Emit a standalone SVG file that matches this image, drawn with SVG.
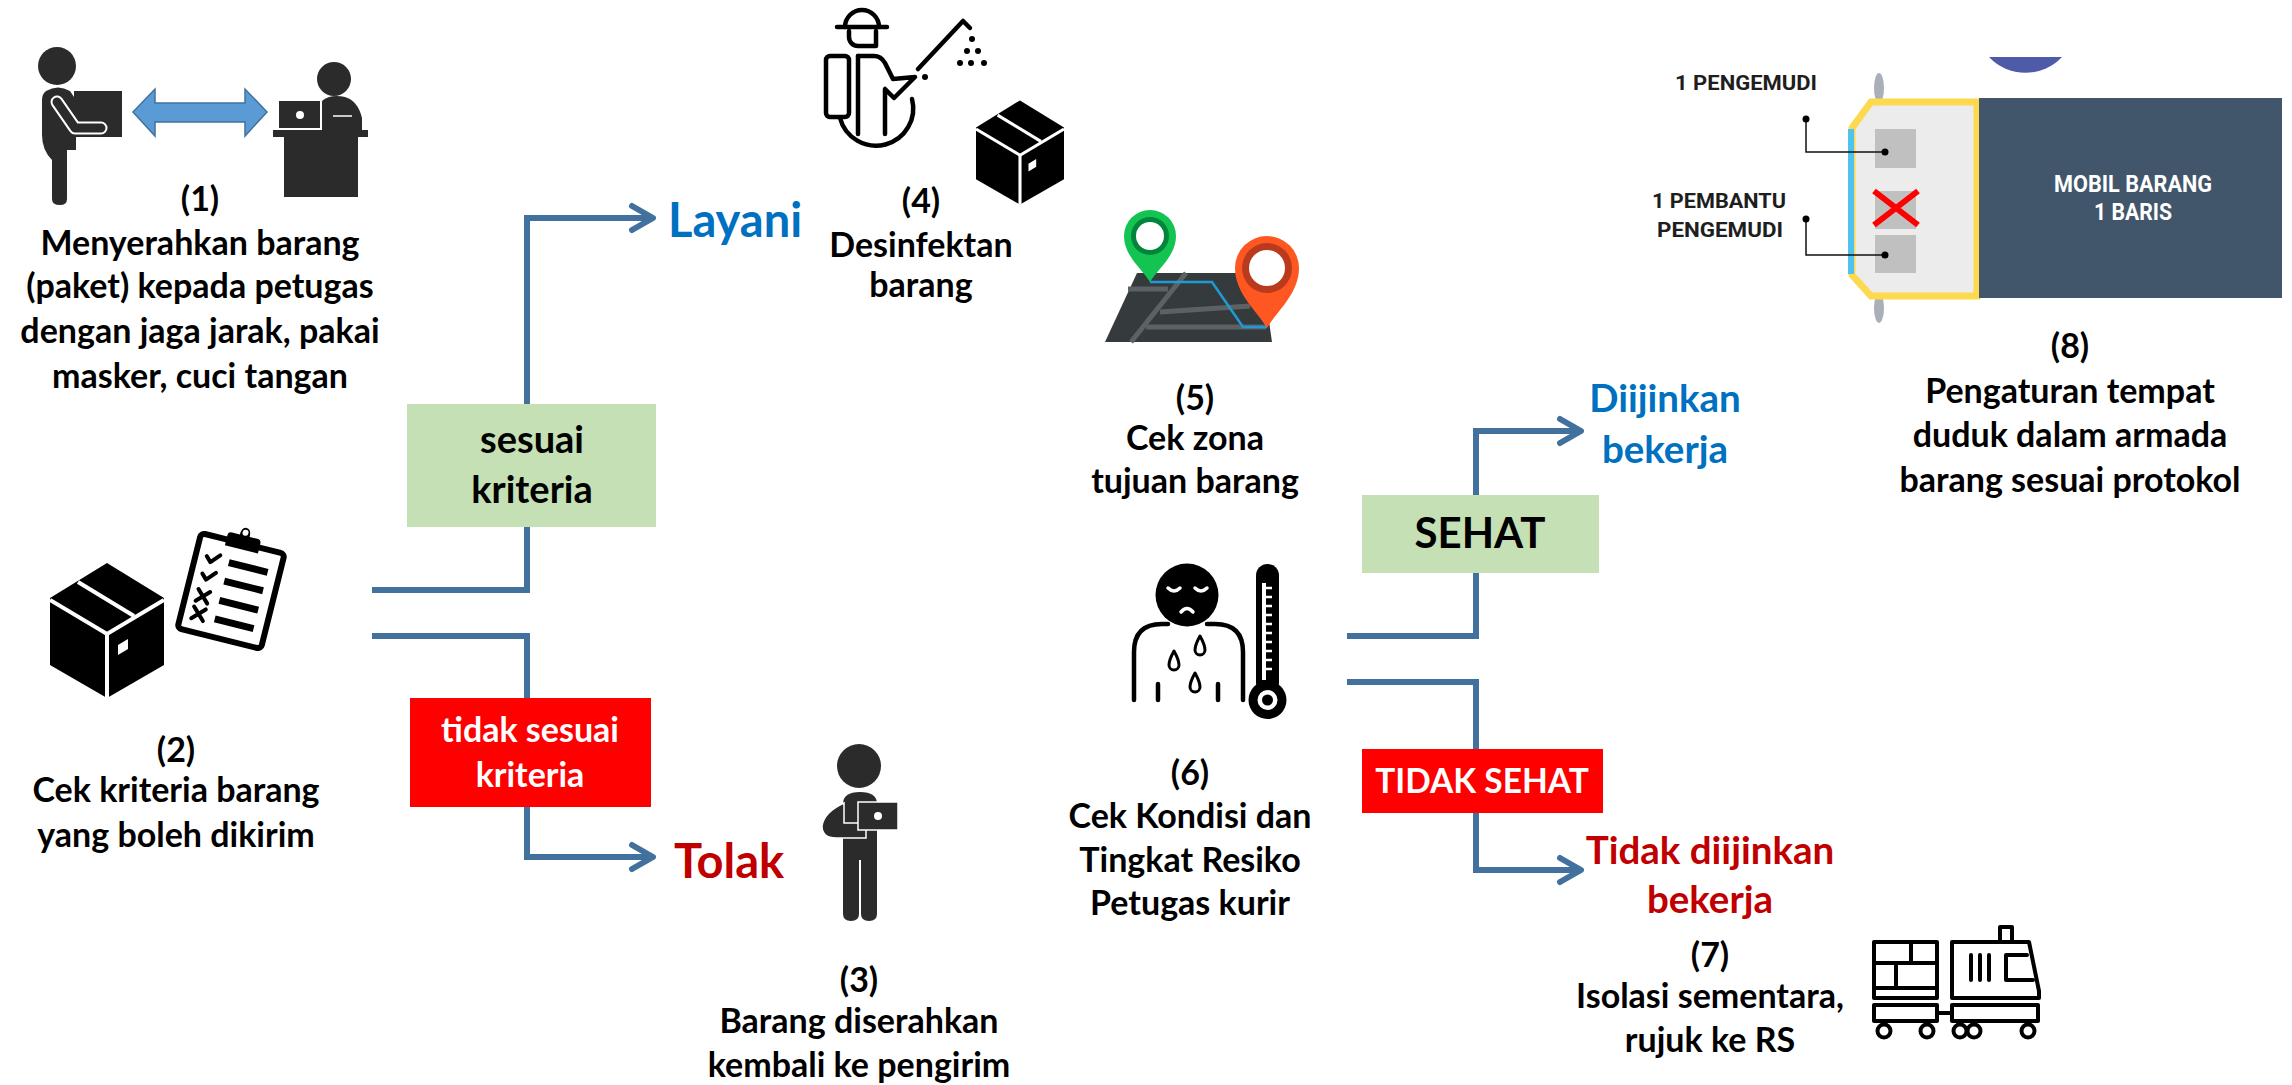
<svg xmlns="http://www.w3.org/2000/svg" xmlns:xlink="http://www.w3.org/1999/xlink" width="2292" height="1085" viewBox="0 0 2292 1085">
  <style>
    .t { font-family: Lato, "Liberation Sans", sans-serif; font-weight: 700; text-anchor: middle; fill: #000; }
    .desc { font-size: 34px; }
    .go { fill: #0070c0; font-size: 47px; text-anchor: start; }
    .stop { fill: #c00000; font-size: 47px; text-anchor: start; }
    .ok2 { fill: #0070c0; font-size: 38.5px; }
    .no2 { fill: #c00000; font-size: 38.5px; }
    .conn { fill: none; stroke: #41719c; stroke-width: 6; }
    .ink { fill: #2b2b2b; }
    .line { fill: none; stroke: #000; stroke-linecap: round; stroke-linejoin: round; }
    .lbl { font-family: Roboto, "Liberation Sans", sans-serif; font-weight: 700; fill: #1e1e1e; text-anchor: start; }
  </style>
  <defs>
    <marker id="arr" markerUnits="userSpaceOnUse" markerWidth="40" markerHeight="40" viewBox="-30 -20 40 40" refX="0" refY="0" orient="auto">
      <path d="M-21 -12 L0 0 L-21 12" fill="none" stroke="#41719c" stroke-width="6" stroke-linecap="round" stroke-linejoin="round"/>
    </marker>
    <!-- parcel box, 114 x 135 units -->
    <symbol id="parcel" viewBox="0 0 114 135">
      <polygon points="57,0 114,35 114,102 57,135 0,102 0,35" fill="#000"/>
      <polyline points="0,37 57,71 114,37" fill="none" stroke="#fff" stroke-width="4"/>
      <line x1="57" y1="71" x2="57" y2="135" stroke="#fff" stroke-width="4"/>
      <line x1="28" y1="19" x2="84" y2="53" stroke="#fff" stroke-width="4"/>
      <polygon points="68,82 78,76 78,86 68,92" fill="#fff"/>
    </symbol>
  </defs>

  <rect width="2292" height="1085" fill="#fff"/>

  <!-- connectors -->
  <g id="connectors">
    <path class="conn" d="M372 590 H527 V218 H653" marker-end="url(#arr)"/>
    <path class="conn" d="M372 636 H527 V857 H653" marker-end="url(#arr)"/>
    <path class="conn" d="M1347 636 H1476 V431 H1581" marker-end="url(#arr)"/>
    <path class="conn" d="M1347 682 H1476 V870 H1581" marker-end="url(#arr)"/>
  </g>

  <!-- decision labels -->
  <g id="sesuai">
    <rect x="407" y="404" width="249" height="123" fill="#c5e0b4"/>
    <text class="t" x="532" y="453" font-size="38">sesuai</text>
    <text class="t" x="532" y="503" font-size="38">kriteria</text>
  </g>
  <g id="tidak-sesuai">
    <rect x="410" y="698" width="241" height="109" fill="#ff0000"/>
    <text class="t" x="530" y="742" font-size="34" style="fill:#fff">tidak sesuai</text>
    <text class="t" x="530" y="787" font-size="34" style="fill:#fff">kriteria</text>
  </g>
  <g id="sehat">
    <rect x="1362" y="495" width="237" height="78" fill="#c5e0b4"/>
    <text class="t" x="1480" y="548" font-size="42">SEHAT</text>
  </g>
  <g id="tidak-sehat">
    <rect x="1362" y="749" width="241" height="64" fill="#ff0000"/>
    <text class="t" x="1482" y="793" font-size="33.5" style="fill:#fff">TIDAK SEHAT</text>
  </g>

  <g id="layani"><text class="t go" x="668" y="237">Layani</text></g>
  <g id="tolak"><text class="t stop" x="674" y="878">Tolak</text></g>
  <g id="diijinkan">
    <text class="t ok2" x="1665" y="412">Diijinkan</text>
    <text class="t ok2" x="1665" y="463">bekerja</text>
  </g>
  <g id="tidak-diijinkan">
    <text class="t no2" x="1710" y="864">Tidak diijinkan</text>
    <text class="t no2" x="1710" y="913">bekerja</text>
  </g>

  <!-- (1) handing over the parcel -->
  <g id="node1">
    <circle class="ink" cx="57" cy="66" r="19"/>
    <path class="ink" d="M46 91 Q58 84 70 91 L76 100 L76 150 L67 150 L67 199 Q67 205 60 205 Q52 205 52 199 L52 160 Q42 150 42 135 L42 100 Q42 94 46 91 Z"/>
    <rect class="ink" x="74" y="91" width="48" height="46"/>
    <path d="M57 102 L75 128 L101 128" fill="none" stroke="#fff" stroke-width="13" stroke-linecap="round" stroke-linejoin="round"/>
    <path d="M57 102 L75 128 L101 128" fill="none" stroke="#2b2b2b" stroke-width="9" stroke-linecap="round" stroke-linejoin="round"/>
    <polygon points="133,112 155,89 155,103 245,103 245,89 267,112 245,136 245,122 155,122 155,136" fill="#5b9bd5" stroke="#41719c" stroke-width="1.5"/>
    <circle class="ink" cx="334" cy="79" r="17"/>
    <path class="ink" d="M322 101 Q330 94 345 97 Q358 101 362 118 L362 130 L322 130 Z"/>
    <path d="M333 116 H352" stroke="#fff" stroke-width="1.5" fill="none"/>
    <rect class="ink" x="279" y="101" width="41" height="27"/>
    <circle cx="300" cy="115" r="4" fill="#fff"/>
    <rect class="ink" x="273" y="130" width="95" height="7"/>
    <rect class="ink" x="284" y="137" width="74" height="60"/>
    <text class="t desc" x="200" y="211">(1)</text>
    <text class="t desc" x="200" y="255">Menyerahkan barang</text>
    <text class="t desc" x="200" y="298">(paket) kepada petugas</text>
    <text class="t desc" x="200" y="343">dengan jaga jarak, pakai</text>
    <text class="t desc" x="200" y="388">masker, cuci tangan</text>
  </g>

  <!-- (2) checking the parcel criteria -->
  <g id="node2">
    <use href="#parcel" xlink:href="#parcel" x="50" y="563" width="114" height="135"/>
    <g transform="rotate(14 231 591)">
      <rect x="188" y="542" width="86" height="98" rx="4" fill="#fff" stroke="#000" stroke-width="6"/>
      <path d="M214 548 V538 Q214 534 218 534 H226 Q226 526 231 526 Q236 526 236 534 H244 Q248 534 248 538 V548 Z" fill="#000"/>
      <circle cx="231" cy="531" r="3" fill="#fff"/>
      <path class="line" d="M199 563 L204 568 L212 559 M199 581 L204 586 L212 577 M199 597 L211 609 M211 597 L199 609 M199 615 L211 627 M211 615 L199 627" stroke-width="4"/>
      <path d="M222 564 H262 M222 583 H262 M222 603 H262 M222 622 H262" stroke="#000" stroke-width="7"/>
    </g>
    <text class="t desc" x="176" y="762">(2)</text>
    <text class="t desc" x="176" y="802">Cek kriteria barang</text>
    <text class="t desc" x="176" y="847">yang boleh dikirim</text>
  </g>

  <!-- (3) parcel returned to sender -->
  <g id="node3">
    <circle class="ink" cx="859" cy="766" r="22"/>
    <path class="ink" d="M843 804 Q843 792 860 792 Q877 792 877 804 L877 914 Q877 921 869 921 Q861 921 861 914 L861 860 L859 860 L859 914 Q859 921 851 921 Q843 921 843 914 Z"/>
    <path class="ink" d="M844 803 Q824 812 822 826 Q822 838 836 838 L866 838 L866 823 L844 823 Z" stroke="#fff" stroke-width="1.5"/>
    <rect class="ink" x="858" y="802" width="40" height="28" stroke="#fff" stroke-width="1.5"/>
    <circle cx="878" cy="816" r="4" fill="#fff"/>
    <text class="t desc" x="859" y="992">(3)</text>
    <text class="t desc" x="859" y="1033">Barang diserahkan</text>
    <text class="t desc" x="859" y="1077">kembali ke pengirim</text>
  </g>

  <!-- (4) disinfecting the parcel -->
  <g id="node4">
    <g class="line" stroke-width="4.5">
      <path d="M837 27 H887"/>
      <path d="M845 27 A17 17 0 0 1 879 27"/>
      <path d="M849 31 V37 A9 9 0 0 0 858 46 H876 V31"/>
      <rect x="826" y="56" width="23" height="61" rx="4"/>
      <path d="M858 56 H874 Q881 56 885 63 L893 79 L915 77 L894 98 L885 89 V134"/>
      <path d="M858 56 V134"/>
      <path d="M840 118 A37 37 0 0 0 912 99"/>
      <path d="M918 69 L963 21 L970 28"/>
    </g>
    <g fill="#000">
      <circle cx="925" cy="77" r="3"/>
      <circle cx="972" cy="39" r="3"/>
      <circle cx="967" cy="51" r="3"/>
      <circle cx="978" cy="51" r="3"/>
      <circle cx="960" cy="63" r="3"/>
      <circle cx="971" cy="63" r="3"/>
      <circle cx="984" cy="63" r="3"/>
    </g>
    <use href="#parcel" xlink:href="#parcel" x="976" y="100" width="88" height="105"/>
    <text class="t desc" x="921" y="213">(4)</text>
    <text class="t desc" x="921" y="257">Desinfektan</text>
    <text class="t desc" x="921" y="297">barang</text>
  </g>

  <!-- (5) destination zone check -->
  <g id="node5">
    <polygon points="1137,273 1262,273 1272,342 1105,342" fill="#353b3c"/>
    <g stroke="#5c6263" stroke-width="5" fill="none">
      <path d="M1128 289 H1168"/>
      <path d="M1186 273 L1131 342"/>
      <path d="M1160 312 L1250 306"/>
      <path d="M1146 327 H1266"/>
    </g>
    <path d="M1150 282 H1212 L1243 327 H1267" fill="none" stroke="#1e9ad6" stroke-width="2.5"/>
    <path d="M1150 282 C1143 270 1124 256 1124 236 A26 26 0 0 1 1176 236 C1176 256 1157 270 1150 282 Z" fill="#14c452"/>
    <circle cx="1150" cy="236" r="19" fill="#00853a"/>
    <circle cx="1150" cy="236" r="14" fill="#fff"/>
    <path d="M1267 328 C1258 312 1235 294 1235 268 A32 32 0 0 1 1299 268 C1299 294 1276 312 1267 328 Z" fill="#ff5722"/>
    <circle cx="1267" cy="268" r="25" fill="#b93a1c"/>
    <circle cx="1267" cy="268" r="18" fill="#fff"/>
    <text class="t desc" x="1195" y="410">(5)</text>
    <text class="t desc" x="1195" y="450">Cek zona</text>
    <text class="t desc" x="1195" y="493">tujuan barang</text>
  </g>

  <!-- (6) courier health check -->
  <g id="node6">
    <circle cx="1187" cy="595" r="31.5" fill="#000"/>
    <g fill="none" stroke="#fff" stroke-width="3.5" stroke-linecap="round">
      <path d="M1168 588 Q1174 594 1180 588"/>
      <path d="M1195 588 Q1201 594 1207 588"/>
      <path d="M1181 612 Q1187 605 1193 612"/>
    </g>
    <g class="line" stroke-width="4.5">
      <path d="M1134 700 V652 Q1134 624 1162 624 H1168"/>
      <path d="M1243 700 V652 Q1243 624 1215 624 H1207"/>
      <path d="M1158 684 V700 M1218 684 V700"/>
      <path d="M1200 636 Q1205 645 1205 650 A5 5 0 0 1 1195 650 Q1195 645 1200 636 Z" stroke-width="3"/>
      <path d="M1174 651 Q1179 660 1179 665 A5 5 0 0 1 1169 665 Q1169 660 1174 651 Z" stroke-width="3"/>
      <path d="M1195 673 Q1200 682 1200 687 A5 5 0 0 1 1190 687 Q1190 682 1195 673 Z" stroke-width="3"/>
    </g>
    <rect x="1256" y="564" width="23" height="130" rx="11.5" fill="#000"/>
    <circle cx="1267.5" cy="700" r="19" fill="#000"/>
    <circle cx="1267.5" cy="700" r="10" fill="#fff"/>
    <circle cx="1267.5" cy="700" r="5.5" fill="#000"/>
    <path d="M1264 583 V680" stroke="#fff" stroke-width="4"/>
    <path d="M1266 588 H1272 M1266 597 H1272 M1266 606 H1272 M1266 615 H1272 M1266 624 H1272 M1266 633 H1272 M1266 642 H1272 M1266 651 H1272 M1266 660 H1272 M1266 669 H1272" stroke="#fff" stroke-width="2.5"/>
    <text class="t desc" x="1190" y="785">(6)</text>
    <text class="t desc" x="1190" y="828">Cek Kondisi dan</text>
    <text class="t desc" x="1190" y="872">Tingkat Resiko</text>
    <text class="t desc" x="1190" y="915">Petugas kurir</text>
  </g>

  <!-- (7) isolation and referral -->
  <g id="node7">
    <g class="line" stroke-width="4">
      <rect x="1874" y="942" width="63" height="56"/>
      <path d="M1874 963 H1937 M1911 942 V963 M1896 963 V988 M1874 988 H1937"/>
      <path d="M1952 998 V942 H2029 L2039 991 V998 Z"/>
      <rect x="2000" y="927" width="12" height="15"/>
      <path d="M1971 955 V980 M1980 955 V980 M1989 955 V980"/>
      <path d="M2027 955 H2006 V980 H2033"/>
      <rect x="1874" y="1005" width="63" height="16"/>
      <rect x="1952" y="1005" width="86" height="16"/>
      <path d="M1937 1013 H1952"/>
    </g>
    <g fill="#fff" stroke="#000" stroke-width="4">
      <circle cx="1884" cy="1031" r="6.5"/>
      <circle cx="1927" cy="1031" r="6.5"/>
      <circle cx="1960" cy="1031" r="6.5"/>
      <circle cx="1974" cy="1031" r="6.5"/>
      <circle cx="2028" cy="1031" r="6.5"/>
    </g>
    <text class="t desc" x="1710" y="967">(7)</text>
    <text class="t desc" x="1710" y="1008">Isolasi sementara,</text>
    <text class="t desc" x="1710" y="1052">rujuk ke RS</text>
  </g>

  <!-- (8) seating layout in the goods vehicle -->
  <g id="node8">
    <path d="M1989 57 A50 50 0 0 0 2062 57 Z" fill="#4f5aa8"/>
    <ellipse cx="1879" cy="88" rx="5" ry="15" fill="#a9b0b8"/>
    <ellipse cx="1879" cy="308" rx="5" ry="15" fill="#a9b0b8"/>
    <path d="M1871 102 H1977 V296 H1871 L1852 275 V128 Z" fill="#ececec" stroke="#fdd94f" stroke-width="7" stroke-linejoin="miter"/>
    <path d="M1851 129 V274" stroke="#4fc3f0" stroke-width="6"/>
    <rect x="1979" y="98" width="303" height="200" fill="#41566a"/>
    <rect x="1875" y="129" width="41" height="39" fill="#c0c0c0"/>
    <rect x="1875" y="191" width="41" height="38" fill="#c0c0c0"/>
    <rect x="1875" y="235" width="41" height="38" fill="#c0c0c0"/>
    <path d="M1874 191 L1918 225 M1918 191 L1874 225" stroke="#ff0000" stroke-width="6"/>
    <path d="M1806 119 V152 H1885 M1806 219 V255 H1885" fill="none" stroke="#111" stroke-width="1.5"/>
    <g fill="#000">
      <circle cx="1806" cy="119" r="3.5"/>
      <circle cx="1885" cy="152" r="3.5"/>
      <circle cx="1806" cy="219" r="3.5"/>
      <circle cx="1885" cy="255" r="3.5"/>
    </g>
    <text class="lbl" x="1675" y="90" font-size="21" textLength="142" lengthAdjust="spacingAndGlyphs">1 PENGEMUDI</text>
    <text class="lbl" x="1652" y="208" font-size="21" textLength="134" lengthAdjust="spacingAndGlyphs">1 PEMBANTU</text>
    <text class="lbl" x="1657" y="237" font-size="21" textLength="126" lengthAdjust="spacingAndGlyphs">PENGEMUDI</text>
    <text class="lbl" x="2133" y="192" font-size="23" style="fill:#fff;text-anchor:middle" textLength="158" lengthAdjust="spacingAndGlyphs">MOBIL BARANG</text>
    <text class="lbl" x="2133" y="220" font-size="23" style="fill:#fff;text-anchor:middle" textLength="78" lengthAdjust="spacingAndGlyphs">1 BARIS</text>
    <text class="t desc" x="2070" y="358">(8)</text>
    <text class="t desc" x="2070" y="403">Pengaturan tempat</text>
    <text class="t desc" x="2070" y="447">duduk dalam armada</text>
    <text class="t desc" x="2070" y="492">barang sesuai protokol</text>
  </g>
</svg>
